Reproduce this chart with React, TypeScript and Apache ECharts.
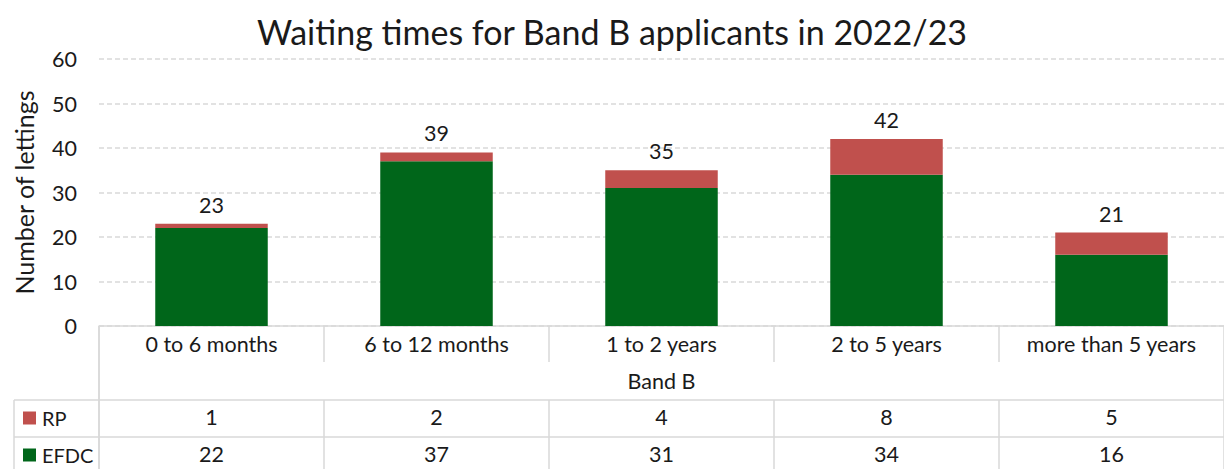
import React, { useEffect, useRef } from "react";
import * as echarts from "echarts";

const title = "Waiting times for Band B applicants in 2022/23";
const categories = ["0 to 6 months", "6 to 12 months", "1 to 2 years", "2 to 5 years", "more than 5 years"];
const groupLabel = "Band B";
const efdc = [22, 37, 31, 34, 16];
const rp = [1, 2, 4, 8, 5];
const yTicks = { min: 0, max: 60, interval: 10 };
const yName = "Number of lettings";

const FONT = "Lato, 'Noto Sans', sans-serif";
const LINE = "#d9d9d9";
const TXT = "#1a1a1a";
const FS = 21.5;

export default function App() {
  const ref = useRef<HTMLDivElement>(null);
  useEffect(() => {
    document.body.style.margin = "0";
    const chart = echarts.init(ref.current!, null, { renderer: "svg" });
    const tableAxis = (data: string[], offset: number, tickLen: number, margin: number, showLine: boolean, fmt?: (v: string, i: number) => string) => ({
      type: "category",
      data,
      position: "bottom",
      offset,
      gridIndex: 0,
      axisLine: { show: showLine, lineStyle: { color: LINE, width: 1.5 } },
      axisTick: { show: true, length: tickLen, alignWithLabel: false, lineStyle: { color: LINE, width: 1.5 } },
      axisLabel: { fontFamily: FONT, fontSize: FS, color: TXT, margin, formatter: fmt, interval: 0 },
    });
    chart.setOption({
      animation: false,
      textStyle: { fontFamily: FONT },
      title: {
        text: title,
        left: "center",
        top: 9,
        textStyle: { fontFamily: FONT, fontSize: 34, fontWeight: "normal", color: TXT },
      },
      grid: { left: 99, right: 0, top: 59, bottom: 143, containLabel: false },
      legend: {
        orient: "vertical",
        left: 23,
        top: 408,
        padding: 0,
        data: ["RP", "EFDC"],
        icon: "rect",
        itemWidth: 13,
        itemHeight: 13,
        itemGap: 17,
        selectedMode: false,
        textStyle: { fontFamily: FONT, fontSize: 20, color: TXT, padding: [0, 0, 0, 1] },
      },
      xAxis: [
        tableAxis(categories, 0, 36, 7, true),
        tableAxis([groupLabel], 36, 38, 8, false),
        tableAxis(categories, 74, 37, 6, true, (_v, i) => String(rp[i])),
        tableAxis(categories, 111, 34, 6, true, (_v, i) => String(efdc[i])),
      ],
      yAxis: {
        type: "value",
        min: yTicks.min,
        max: yTicks.max,
        interval: yTicks.interval,
        name: yName,
        nameLocation: "middle",
        nameGap: 63,
        nameTextStyle: { fontFamily: FONT, fontSize: 25, color: TXT },
        axisLine: { show: false },
        axisTick: { show: false },
        axisLabel: { fontFamily: FONT, fontSize: FS, color: TXT, margin: 22 },
        splitLine: { lineStyle: { color: LINE, type: [5, 3], width: 1.5 } },
      },
      series: [
        {
          name: "EFDC",
          type: "bar",
          stack: "total",
          xAxisIndex: 0,
          data: efdc,
          barWidth: "50%",
          itemStyle: { color: "#00661a" },
        },
        {
          name: "RP",
          type: "bar",
          stack: "total",
          xAxisIndex: 0,
          data: rp,
          barWidth: "50%",
          itemStyle: { color: "#c0504d" },
          label: {
            show: true,
            position: "top",
            distance: 8,
            fontFamily: FONT,
            fontSize: FS,
            color: TXT,
            formatter: (p: any) => String(efdc[p.dataIndex] + rp[p.dataIndex]),
          },
        },
      ],
      graphic: [
        { type: "line", shape: { x1: 14, y1: 400, x2: 99, y2: 400 }, style: { stroke: LINE, lineWidth: 1.5 } },
        { type: "line", shape: { x1: 14, y1: 437, x2: 99, y2: 437 }, style: { stroke: LINE, lineWidth: 1.5 } },
        { type: "line", shape: { x1: 14, y1: 400, x2: 14, y2: 469 }, style: { stroke: LINE, lineWidth: 1.5 } },
        { type: "line", shape: { x1: 99, y1: 326, x2: 99, y2: 469 }, style: { stroke: LINE, lineWidth: 1.5 } },
      ],
    });
    return () => chart.dispose();
  }, []);
  return <div ref={ref} style={{ width: 1224, height: 469 }} />;
}
